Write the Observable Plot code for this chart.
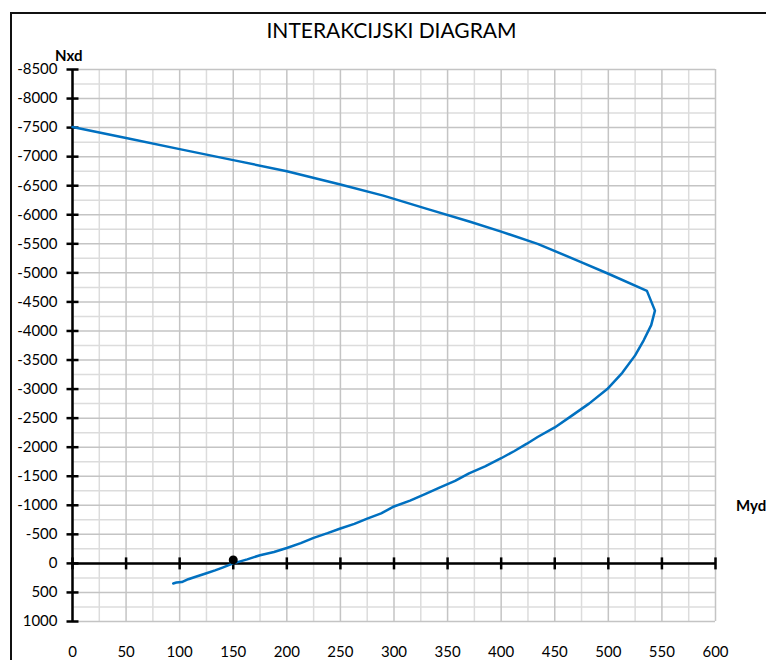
<!DOCTYPE html>
<html>
<head>
<meta charset="utf-8">
<script src="https://cdn.jsdelivr.net/npm/d3@7"></script>
<script src="https://cdn.jsdelivr.net/npm/@observablehq/plot@0.6"></script>
<style>
  html, body { margin: 0; padding: 0; background: #fff; overflow: hidden; }
  #wrap { position: relative; width: 766px; height: 660px; overflow: hidden; font-family: Lato, sans-serif; }
  #wrap svg { position: absolute; left: 0; top: 0; }
  #border { position: absolute; left: 10px; top: 12px; width: 900px; height: 900px; border-top: 2px solid #111; border-left: 2px solid #111; }
  .lbl { position: absolute; white-space: nowrap; color: #000; }
  #title { left: 0; width: 783px; top: 17px; text-align: center; font-size: 21px; }
  #nxd { left: 55px; top: 46px; font-size: 15px; font-weight: bold; }
  #myd { left: 736px; top: 496px; font-size: 15px; font-weight: bold; }
</style>
</head>
<body>
<div id="wrap">
  <div id="border"></div>
  <div class="lbl" id="title">INTERAKCIJSKI DIAGRAM</div>
  <div class="lbl" id="nxd">Nxd</div>
  <div class="lbl" id="myd">Myd</div>
</div>
<script>
// Interaction curve: Myd (x) and Nxd (y)
const myd = [94, 97, 102, 108, 115, 125, 133, 140, 150, 163, 175, 188, 200, 213, 225, 238, 250, 263, 275, 288, 300, 315, 330, 343, 357, 370, 385, 400, 412, 424, 434, 450, 465, 482, 499, 513, 525, 533, 540, 543.5, 536, 500, 474, 434, 400, 371, 330, 290, 250, 200, 150, 100, 50, 0];
const nxd = [345, 330, 322, 272, 230, 170, 120, 72, 0, -70, -140, -195, -265, -350, -440, -520, -600, -680, -770, -860, -980, -1080, -1200, -1310, -1420, -1550, -1670, -1810, -1930, -2060, -2175, -2340, -2530, -2750, -3000, -3280, -3580, -3840, -4100, -4350, -4690, -4985, -5190, -5500, -5710, -5880, -6105, -6330, -6520, -6750, -6940, -7130, -7320, -7510];
// Marked point
const pointM = [150];
const pointN = [-60];
// Axis ticks
const xTicks = [0, 50, 100, 150, 200, 250, 300, 350, 400, 450, 500, 550, 600];
const xMinor = [25, 75, 125, 175, 225, 275, 325, 375, 425, 475, 525, 575];
const yTicks = [-8500, -8000, -7500, -7000, -6500, -6000, -5500, -5000, -4500, -4000, -3500, -3000, -2500, -2000, -1500, -1000, -500, 0, 500, 1000];
const yMinor = [-8250, -7750, -7250, -6750, -6250, -5750, -5250, -4750, -4250, -3750, -3250, -2750, -2250, -1750, -1250, -750, -250, 250, 750];

const curve = myd.map((m, i) => ({M: m, N: nxd[i]}));
const pts = pointM.map((m, i) => ({M: m, N: pointN[i]}));

const hSym = {draw(ctx, size) { const r = Math.sqrt(size / Math.PI); ctx.moveTo(-r, 0); ctx.lineTo(r, 0); }};
const vSym = {draw(ctx, size) { const r = Math.sqrt(size / Math.PI); ctx.moveTo(0, -r); ctx.lineTo(0, r); }};

const minorC = "#dcdcdc", majorC = "#c4c4c4";

const chart = Plot.plot({
  width: 766,
  height: 660,
  marginLeft: 72,
  marginRight: 51,
  marginTop: 69,
  marginBottom: 39,
  style: {fontFamily: "Lato, sans-serif", fontSize: "15px", color: "#000", background: "transparent"},
  x: {domain: [0, 600]},
  y: {domain: [1000, -8500]},
  marks: [
    Plot.ruleX(xMinor, {stroke: minorC, strokeWidth: 1.5}),
    Plot.ruleY(yMinor, {stroke: minorC, strokeWidth: 1.5}),
    Plot.ruleX(xTicks, {stroke: majorC, strokeWidth: 1.5}),
    Plot.ruleY(yTicks, {stroke: majorC, strokeWidth: 1.5}),
    Plot.axisY({ticks: yTicks, tickSize: 0, tickPadding: 15, tickFormat: d => String(d), label: null}),
    Plot.axisX({ticks: xTicks, tickSize: 0, tickPadding: 25, tickFormat: d => String(d), label: null}),
    Plot.ruleY([0], {stroke: "#000", strokeWidth: 2.5}),
    Plot.ruleX([0], {stroke: "#000", strokeWidth: 2.5}),
    Plot.dot(yTicks, {x: () => 0, y: d => d, symbol: hSym, r: 6, stroke: "#000", strokeWidth: 2.5, fill: "none"}),
    Plot.dot(xTicks, {x: d => d, y: () => 0, symbol: vSym, r: 6, stroke: "#000", strokeWidth: 2.5, fill: "none"}),
    Plot.line(curve, {x: "M", y: "N", stroke: "#0070C0", strokeWidth: 2.5, curve: "linear"}),
    Plot.dot(pts, {x: "M", y: "N", r: 4.5, fill: "#000", stroke: "none"})
  ]
});
document.getElementById("wrap").prepend(chart);
</script>
</body>
</html>
